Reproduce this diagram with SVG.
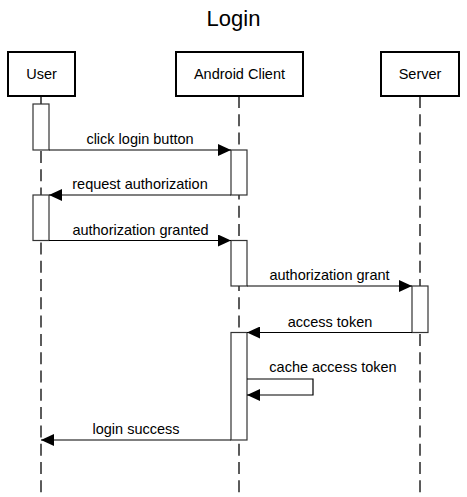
<svg xmlns="http://www.w3.org/2000/svg" width="467" height="497" viewBox="0 0 467 497">
<defs>
<style>
text{font-family:"Liberation Sans",Arial,sans-serif;fill:#000;}
.t{font-size:22px;text-anchor:middle;}
.lbl{font-size:14.5px;text-anchor:middle;}
.box{fill:#fff;stroke:#000;stroke-width:2;}
.life{stroke:#333;stroke-width:1.6;stroke-dasharray:12 6.3;fill:none;}
.act{fill:#fff;stroke:#333;stroke-width:1.2;}
.msg{stroke:#000;stroke-width:1.2;fill:none;marker-end:url(#ah);}
</style>
<marker id="ah" viewBox="0 0 13 12" refX="13" refY="6" markerWidth="13" markerHeight="12" markerUnits="userSpaceOnUse" orient="auto">
<path d="M0,0 L13,6 L0,12 Z" fill="#000"/>
</marker>
</defs>
<rect width="467" height="497" fill="#fff"/>
<text class="t" x="233.5" y="26">Login</text>
<g id="lifelines">
<line class="life" x1="41" y1="96" x2="41" y2="497"/>
<line class="life" x1="239" y1="96" x2="239" y2="497"/>
<line class="life" x1="420" y1="96" x2="420" y2="497"/>
</g>
<g id="user">
<rect class="box" x="8" y="52" width="67" height="44"/>
<text class="lbl" x="41.5" y="79">User</text>
</g>
<g id="android">
<rect class="box" x="176" y="52" width="127" height="44"/>
<text class="lbl" x="239.5" y="79">Android Client</text>
</g>
<g id="server">
<rect class="box" x="381" y="52" width="78" height="44"/>
<text class="lbl" x="420" y="79">Server</text>
</g>
<g id="activations">
<rect class="act" x="33" y="104" width="16" height="46"/>
<rect class="act" x="231" y="150" width="16" height="45"/>
<rect class="act" x="33" y="195" width="16" height="45.5"/>
<rect class="act" x="231" y="240.5" width="16" height="45.5"/>
<rect class="act" x="412" y="286" width="16" height="46.5"/>
<rect class="act" x="231" y="332.5" width="16" height="107.5"/>
</g>
<g id="connectors">
<line class="msg" x1="49" y1="150" x2="231" y2="150"/>
<text class="lbl" x="140" y="144">click login button</text>
<line class="msg" x1="231" y1="195" x2="49" y2="195"/>
<text class="lbl" x="140" y="189">request authorization</text>
<line class="msg" x1="49" y1="240.5" x2="231" y2="240.5"/>
<text class="lbl" x="140.5" y="234.5">authorization granted</text>
<line class="msg" x1="247" y1="286" x2="412" y2="286"/>
<text class="lbl" x="329.5" y="280">authorization grant</text>
<line class="msg" x1="412" y1="332.5" x2="247" y2="332.5"/>
<text class="lbl" x="330" y="326.5">access token</text>
<path class="msg" d="M247,379 H313 V395 H247"/>
<text class="lbl" x="333" y="372">cache access token</text>
<line class="msg" x1="231" y1="440" x2="41" y2="440"/>
<text class="lbl" x="136" y="434">login success</text>
</g>
</svg>
